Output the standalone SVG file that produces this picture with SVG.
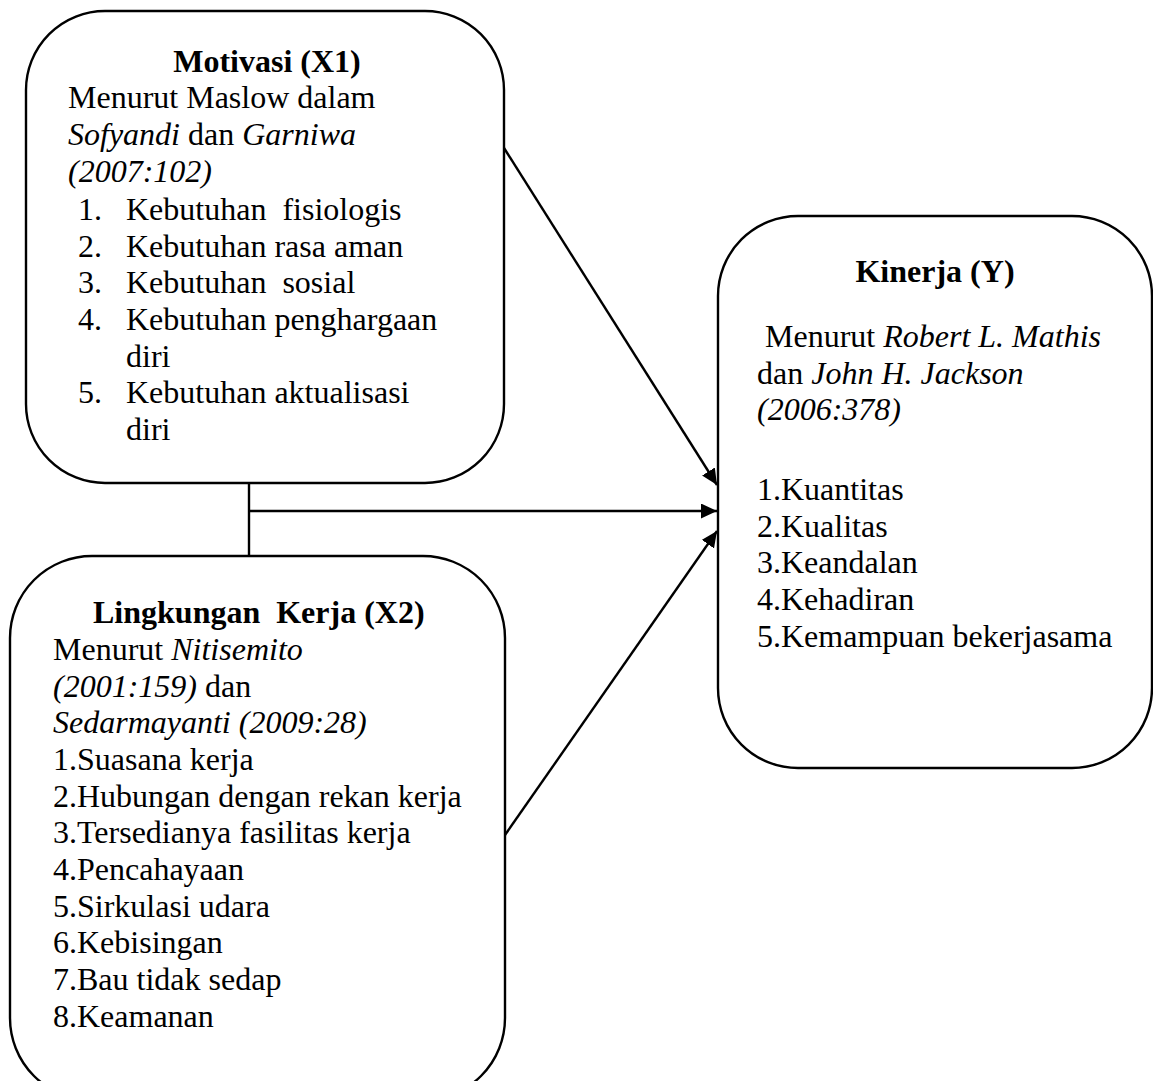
<svg xmlns="http://www.w3.org/2000/svg" width="1153" height="1081" viewBox="0 0 1153 1081">
<style>
.box{fill:#fff;stroke:#000;stroke-width:2.4}
.t{font-family:"Liberation Serif","Times New Roman",serif;font-size:32px;fill:#000}
.b{font-weight:bold}
.i{font-style:italic}
.c{stroke:#000;stroke-width:2.4;fill:none}
</style>
<defs>
<marker id="ah" markerUnits="userSpaceOnUse" markerWidth="18" markerHeight="16" refX="16" refY="7.5" orient="auto">
<path d="M0,0 L16,7.5 L0,15 z" fill="#000"/>
</marker>
</defs>
<g id="connectors">
<line class="c" x1="249" y1="483" x2="249" y2="556"/>
<line class="c" x1="249" y1="511" x2="717" y2="511" marker-end="url(#ah)"/>
<line class="c" x1="504" y1="148" x2="717" y2="485" marker-end="url(#ah)"/>
<line class="c" x1="505" y1="835" x2="717" y2="531" marker-end="url(#ah)"/>
</g>
<g id="motivasi">
<rect class="box" x="26" y="11" width="478" height="472" rx="79" ry="79"/>
<text class="t b" x="267" y="72" text-anchor="middle">Motivasi (X1)</text>
<text class="t" x="68" y="108">Menurut Maslow dalam</text>
<text class="t" x="68" y="145"><tspan class="i">Sofyandi</tspan> dan <tspan class="i">Garniwa</tspan></text>
<text class="t i" x="68" y="182">(2007:102)</text>
<text class="t" x="78" y="220">1.</text><text class="t" x="126" y="220" xml:space="preserve">Kebutuhan  fisiologis</text>
<text class="t" x="78" y="257">2.</text><text class="t" x="126" y="257">Kebutuhan rasa aman</text>
<text class="t" x="78" y="293">3.</text><text class="t" x="126" y="293" xml:space="preserve">Kebutuhan  sosial</text>
<text class="t" x="78" y="330">4.</text><text class="t" x="126" y="330">Kebutuhan penghargaan</text>
<text class="t" x="126" y="367">diri</text>
<text class="t" x="78" y="403">5.</text><text class="t" x="126" y="403">Kebutuhan aktualisasi</text>
<text class="t" x="126" y="440">diri</text>
</g>
<g id="lingkungan">
<rect class="box" x="10" y="556" width="495" height="544" rx="82" ry="82"/>
<text class="t b" x="93" y="623" xml:space="preserve">Lingkungan  Kerja (X2)</text>
<text class="t" x="53" y="660">Menurut <tspan class="i">Nitisemito</tspan></text>
<text class="t" x="53" y="697"><tspan class="i">(2001:159)</tspan> dan</text>
<text class="t i" x="53" y="733">Sedarmayanti (2009:28)</text>
<text class="t" x="53" y="770">1.Suasana kerja</text>
<text class="t" x="53" y="807">2.Hubungan dengan rekan kerja</text>
<text class="t" x="53" y="843">3.Tersedianya fasilitas kerja</text>
<text class="t" x="53" y="880">4.Pencahayaan</text>
<text class="t" x="53" y="917">5.Sirkulasi udara</text>
<text class="t" x="53" y="953">6.Kebisingan</text>
<text class="t" x="53" y="990">7.Bau tidak sedap</text>
<text class="t" x="53" y="1027">8.Keamanan</text>
</g>
<g id="kinerja">
<rect class="box" x="718" y="216" width="434" height="552" rx="80" ry="80"/>
<text class="t b" x="935" y="282" text-anchor="middle">Kinerja (Y)</text>
<text class="t" x="757" y="347" xml:space="preserve"> Menurut <tspan class="i">Robert L. Mathis</tspan></text>
<text class="t" x="757" y="384">dan <tspan class="i">John H. Jackson</tspan></text>
<text class="t i" x="757" y="420">(2006:378)</text>
<text class="t" x="757" y="500">1.Kuantitas</text>
<text class="t" x="757" y="537">2.Kualitas</text>
<text class="t" x="757" y="573">3.Keandalan</text>
<text class="t" x="757" y="610">4.Kehadiran</text>
<text class="t" x="757" y="647">5.Kemampuan bekerjasama</text>
</g>
</svg>
